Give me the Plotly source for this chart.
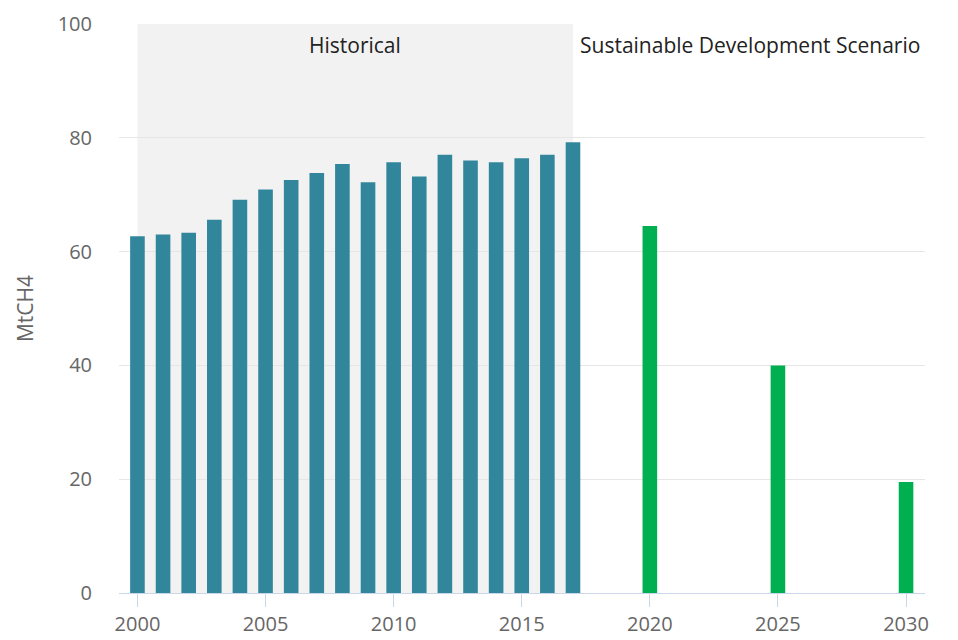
import plotly.graph_objects as go

hist_years = list(range(2000, 2018))
hist_values = [62.7, 63.0, 63.3, 65.6, 69.1, 70.9, 72.6, 73.8, 75.4, 72.2,
               75.7, 73.2, 77.0, 76.0, 75.7, 76.4, 77.0, 79.2]

sds_years = [2020, 2025, 2030]
sds_values = [64.5, 40.0, 19.5]

x_ticks = [2000, 2005, 2010, 2015, 2020, 2025, 2030]
y_ticks = [0, 20, 40, 60, 80, 100]

fig = go.Figure()
fig.add_trace(go.Bar(x=hist_years, y=hist_values, width=0.57,
                     marker=dict(color="#31869b", line=dict(width=0)),
                     name="Historical"))
fig.add_trace(go.Bar(x=sds_years, y=sds_values, width=0.57,
                     marker=dict(color="#00b050", line=dict(width=0)),
                     name="Sustainable Development Scenario"))

# shaded historical band
fig.add_shape(type="rect", xref="x", yref="y", x0=2000, x1=2017, y0=0, y1=100,
              fillcolor="#f2f2f2", line=dict(width=0), layer="below")

fig.add_annotation(x=2008.5, y=100, yanchor="middle", yshift=-21, text="Historical",
                   showarrow=False, font=dict(size=21, color="#222222"))
fig.add_annotation(x=2023.9, y=100, yanchor="middle", yshift=-21,
                   text="Sustainable Development Scenario",
                   showarrow=False, font=dict(size=21, color="#222222"))

# page body has an 8px margin, so the figure is a bit smaller than the window
fig.update_layout(
    width=950, height=632,
    margin=dict(l=111, r=33, t=16, b=47),
    paper_bgcolor="white", plot_bgcolor="white",
    showlegend=False,
    font=dict(family="Open Sans, sans-serif", color="#666666"),
    xaxis=dict(range=[1999.28, 2030.74], tickvals=x_ticks, automargin=False,
               ticks="outside", ticklen=13, tickcolor="#ccd6eb",
               showgrid=False, showline=True, linecolor="#ccd6eb", linewidth=1,
               tickfont=dict(size=20, color="#666666"), zeroline=False),
    yaxis=dict(range=[0, 100], tickvals=y_ticks, automargin=False,
               showgrid=True, gridcolor="#e6e6e6", zeroline=False,
               tickfont=dict(size=20, color="#666666"),
               ticklabelstandoff=26,
               title=dict(text="MtCH4", font=dict(size=21, color="#666666"),
                          standoff=18)),
)

fig.write_html("out.html")
